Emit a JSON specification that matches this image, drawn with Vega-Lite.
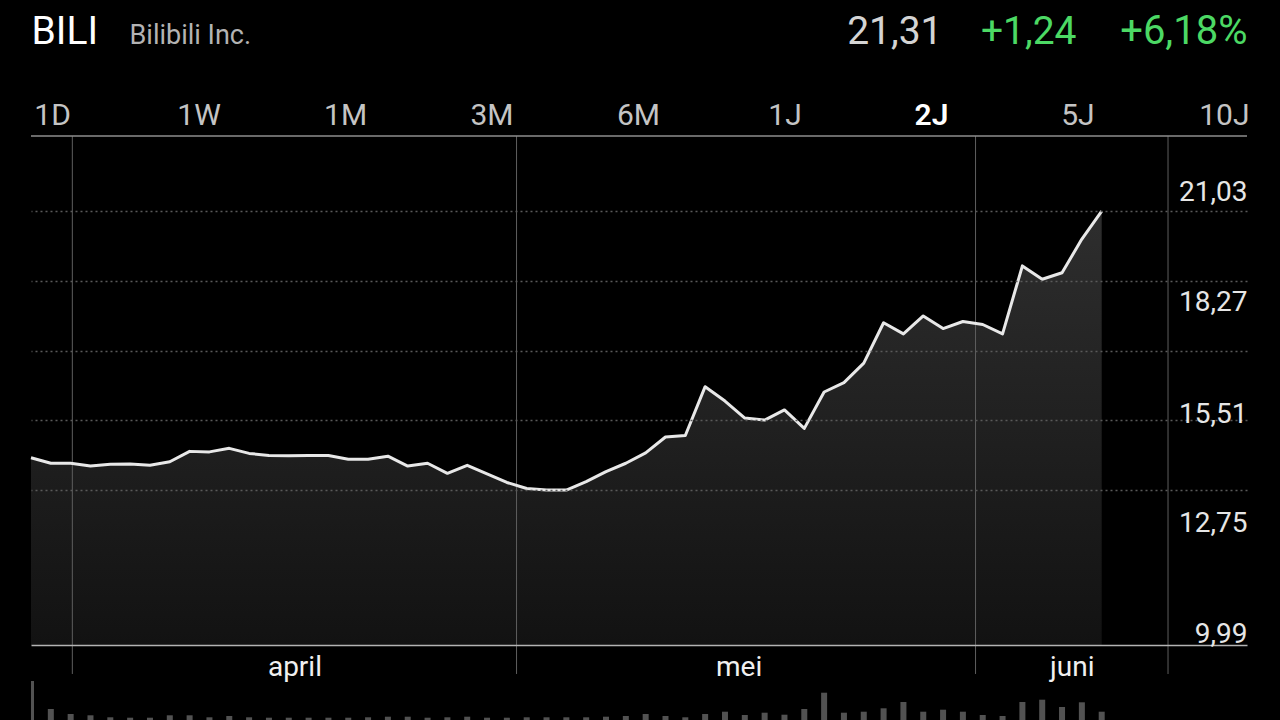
{
  "$schema": "https://vega.github.io/schema/vega-lite/v6.json",
  "width": 1216,
  "height": 584,
  "autosize": {"type": "none"},
  "padding": {"left": 31, "top": 136, "right": 33, "bottom": 0},
  "background": "#000000",
  "config": {
    "view": {"stroke": null},
    "font": "Roboto",
    "axis": {"labelFont": "Roboto", "titleFont": "Roboto", "titleFontWeight": "normal"}
  },
  "datasets": {
    "daily": [
      {"date": "2018-03-28", "close": 11.27, "volume": 39},
      {"date": "2018-03-29", "close": 11.05, "volume": 11},
      {"date": "2018-04-02", "close": 11.05, "volume": 6},
      {"date": "2018-04-03", "close": 10.94, "volume": 4.7},
      {"date": "2018-04-04", "close": 11.01, "volume": 2.7},
      {"date": "2018-04-05", "close": 11.02, "volume": 2.3},
      {"date": "2018-04-06", "close": 10.97, "volume": 2.3},
      {"date": "2018-04-09", "close": 11.11, "volume": 4.7},
      {"date": "2018-04-10", "close": 11.52, "volume": 4.7},
      {"date": "2018-04-11", "close": 11.50, "volume": 2.7},
      {"date": "2018-04-12", "close": 11.64, "volume": 4},
      {"date": "2018-04-13", "close": 11.44, "volume": 2.7},
      {"date": "2018-04-16", "close": 11.36, "volume": 2.3},
      {"date": "2018-04-17", "close": 11.35, "volume": 2.3},
      {"date": "2018-04-18", "close": 11.36, "volume": 2.3},
      {"date": "2018-04-19", "close": 11.36, "volume": 2.3},
      {"date": "2018-04-20", "close": 11.21, "volume": 2.3},
      {"date": "2018-04-23", "close": 11.21, "volume": 2.7},
      {"date": "2018-04-24", "close": 11.33, "volume": 3.3},
      {"date": "2018-04-25", "close": 10.94, "volume": 3.3},
      {"date": "2018-04-26", "close": 11.05, "volume": 2.3},
      {"date": "2018-04-27", "close": 10.65, "volume": 2.7},
      {"date": "2018-04-30", "close": 10.97, "volume": 3.3},
      {"date": "2018-05-01", "close": 10.63, "volume": 2.3},
      {"date": "2018-05-02", "close": 10.29, "volume": 2.3},
      {"date": "2018-05-03", "close": 10.05, "volume": 2.7},
      {"date": "2018-05-04", "close": 9.99, "volume": 2.7},
      {"date": "2018-05-07", "close": 9.99, "volume": 2.7},
      {"date": "2018-05-08", "close": 10.32, "volume": 2.7},
      {"date": "2018-05-09", "close": 10.72, "volume": 3.3},
      {"date": "2018-05-10", "close": 11.05, "volume": 4},
      {"date": "2018-05-11", "close": 11.46, "volume": 6},
      {"date": "2018-05-14", "close": 12.09, "volume": 4},
      {"date": "2018-05-15", "close": 12.15, "volume": 2.7},
      {"date": "2018-05-16", "close": 14.08, "volume": 6},
      {"date": "2018-05-17", "close": 13.51, "volume": 8.3},
      {"date": "2018-05-18", "close": 12.84, "volume": 5},
      {"date": "2018-05-21", "close": 12.76, "volume": 7.3},
      {"date": "2018-05-22", "close": 13.16, "volume": 5.3},
      {"date": "2018-05-23", "close": 12.43, "volume": 11},
      {"date": "2018-05-24", "close": 13.87, "volume": 27.3},
      {"date": "2018-05-25", "close": 14.24, "volume": 7.3},
      {"date": "2018-05-29", "close": 15.01, "volume": 8.3},
      {"date": "2018-05-30", "close": 16.61, "volume": 11.7},
      {"date": "2018-05-31", "close": 16.17, "volume": 18},
      {"date": "2018-06-01", "close": 16.88, "volume": 8.3},
      {"date": "2018-06-04", "close": 16.38, "volume": 10.3},
      {"date": "2018-06-05", "close": 16.66, "volume": 8.3},
      {"date": "2018-06-06", "close": 16.54, "volume": 5},
      {"date": "2018-06-07", "close": 16.17, "volume": 4},
      {"date": "2018-06-08", "close": 18.86, "volume": 18},
      {"date": "2018-06-11", "close": 18.33, "volume": 20.3},
      {"date": "2018-06-12", "close": 18.59, "volume": 13},
      {"date": "2018-06-13", "close": 19.92, "volume": 17.7},
      {"date": "2018-06-14", "close": 21.03, "volume": 8.3}
    ],
    "monthLines": [
      {"date": "2018-04-01T00:00"},
      {"date": "2018-05-01T00:00"},
      {"date": "2018-06-01T00:00"},
      {"date": "2018-06-14T00:00"}
    ],
    "tabs": [
      {"tab": "1D"}, {"tab": "1W"}, {"tab": "1M"}, {"tab": "3M"}, {"tab": "6M"},
      {"tab": "1J"}, {"tab": "2J"}, {"tab": "5J"}, {"tab": "10J"}
    ]
  },
  "resolve": {
    "scale": {"x": "independent", "y": "independent"},
    "axis": {"x": "independent", "y": "independent"}
  },
  "layer": [
    {
      "data": {"name": "daily"},
      "mark": {
        "type": "area",
        "color": {
          "gradient": "linear", "x1": 0, "y1": 0, "x2": 0, "y2": 1,
          "stops": [{"offset": 0, "color": "#2e2e2e"}, {"offset": 1, "color": "#121212"}]
        }
      },
      "encoding": {
        "x": {"field": "date", "type": "ordinal", "scale": {"type": "point", "padding": 0, "range": [0, 1070.7]}, "axis": null},
        "y": {
          "field": "close", "type": "quantitative",
          "scale": {"domain": [0.89, 24], "zero": false, "nice": false},
          "axis": {
            "orient": "left", "labels": false, "ticks": false, "domain": false, "grid": false,
            "title": "BILI", "titleX": 0, "titleY": -93, "titleAngle": 0,
            "titleAlign": "left", "titleBaseline": "alphabetic",
            "titleFontSize": 39, "titleColor": "#ffffff"
          }
        },
        "y2": {"datum": 3.858}
      }
    },
    {
      "data": {"name": "monthLines"},
      "layer": [
        {
          "mark": {"type": "rule", "color": "#5e5e5e", "strokeWidth": 1},
          "encoding": {
            "x": {
              "field": "date", "type": "temporal",
              "scale": {"domain": [{"year": 2018, "month": 3, "date": 29, "hours": 5}, {"year": 2018, "month": 6, "date": 19, "hours": 8}]},
              "axis": {
                "orient": "bottom", "offset": -75, "zindex": 1,
                "values": [{"year": 2018, "month": 4, "date": 16}, {"year": 2018, "month": 5, "date": 16}, {"year": 2018, "month": 6, "date": 7, "hours": 12}],
                "labelExpr": "['januari','februari','maart','april','mei','juni','juli'][month(datum.value)]",
                "ticks": false, "tickSize": 0, "grid": false,
                "domain": true, "domainColor": "#b4b4b4", "domainWidth": 1.5,
                "labelColor": "#f0f0f0", "labelFontSize": 28, "labelPadding": 30, "labelBaseline": "alphabetic",
                "labelOverlap": false, "labelBound": false, "labelFlush": false,
                "title": "+1,24", "titleX": 1045, "titleY": -602, "titleAlign": "right", "titleBaseline": "alphabetic",
                "titleFontSize": 39, "titleColor": "#4cd964"
              }
            },
            "y": {
              "datum": 24, "type": "quantitative",
              "scale": {"domain": [0.89, 24], "zero": false, "nice": false},
              "axis": {
                "orient": "right",
                "zindex": 1,
                "values": [9.99, 12.75, 15.51, 18.27, 21.03],
                "labelExpr": "replace(format(datum.value, '.2f'), '.', ',')",
                "grid": true, "gridDash": [2, 3], "gridColor": "#5a5a5a", "gridWidth": 1.5,
                "ticks": false, "tickSize": 0, "domain": false,
                "labelAlign": "right", "labelPadding": 0, "labelBaseline": "alphabetic",
                "labelFontSize": 28, "labelColor": "#e6e6e6",
                "labelOverlap": false, "labelBound": false, "labelFlush": false,
                "labelOffset": {
                  "condition": [
                    {"test": "datum.value == 9.99", "value": 152.6},
                    {"test": "datum.value == 12.75", "value": 111.4},
                    {"test": "datum.value == 15.51", "value": 72.1},
                    {"test": "datum.value == 18.27", "value": 29.9}
                  ],
                  "value": -10.3
                },
                "title": "21,31", "titleX": -305, "titleY": -93, "titleAngle": 0,
                "titleAlign": "right", "titleBaseline": "alphabetic",
                "titleFontSize": 39, "titleColor": "#d4d4d4"
              }
            },
            "y2": {"datum": 2.711}
          }
        },
        {
          "transform": [{"aggregate": [{"op": "count", "as": "n"}]}],
          "mark": {"type": "rule", "color": "#8e8e8e", "strokeWidth": 1.5},
          "encoding": {"y": {"datum": 24, "type": "quantitative"}}
        }
      ]
    },
    {
      "data": {"name": "daily"},
      "mark": {"type": "line", "color": "#e8e8e8", "strokeWidth": 3, "strokeJoin": "round"},
      "encoding": {
        "x": {"field": "date", "type": "ordinal", "scale": {"type": "point", "padding": 0, "range": [0, 1070.7]}, "axis": null},
        "y": {"field": "close", "type": "quantitative", "scale": {"domain": [0.89, 24], "zero": false, "nice": false}, "axis": null}
      }
    },
    {
      "data": {"name": "daily"},
      "mark": {"type": "bar", "color": "#525252", "width": 6, "clip": true},
      "encoding": {
        "x": {"field": "date", "type": "ordinal", "scale": {"type": "point", "padding": 0, "range": [0, 1070.7]}, "axis": null},
        "y": {
          "field": "volume", "type": "quantitative",
          "scale": {"domain": [0, 584], "nice": false},
          "axis": {
            "orient": "left", "labels": false, "ticks": false, "domain": false, "grid": false,
            "title": "Bilibili Inc.", "titleX": 98, "titleY": -93, "titleAngle": 0,
            "titleAlign": "left", "titleBaseline": "alphabetic",
            "titleFontSize": 27, "titleColor": "#b3b3b3"
          }
        }
      }
    },
    {
      "data": {"name": "tabs"},
      "encoding": {
        "x": {
          "field": "tab", "type": "nominal", "sort": null,
          "scale": {"type": "point", "padding": 0, "range": [21.6, 1193.4], "domain": ["1D", "1W", "1M", "3M", "6M", "1J", "2J", "5J", "10J"]},
          "axis": null
        },
        "y": {
          "datum": 24, "type": "quantitative",
          "scale": {"domain": [0.89, 24], "zero": false, "nice": false},
          "axis": {
            "orient": "right", "labels": false, "ticks": false, "domain": false, "grid": false,
            "title": "+6,18%", "titleX": 0, "titleY": -93, "titleAngle": 0,
            "titleAlign": "right", "titleBaseline": "alphabetic",
            "titleFontSize": 40, "titleColor": "#4cd964"
          }
        }
      },
      "layer": [
        {
          "transform": [{"filter": "datum.tab != '2J'"}],
          "mark": {"type": "text", "font": "Roboto", "fontSize": 30, "color": "#c4c4c4", "baseline": "alphabetic", "dy": -11},
          "encoding": {"text": {"field": "tab"}}
        },
        {
          "transform": [{"filter": "datum.tab == '2J'"}],
          "mark": {"type": "text", "font": "Roboto", "fontSize": 30, "fontWeight": 600, "color": "#ffffff", "baseline": "alphabetic", "dy": -11},
          "encoding": {"text": {"field": "tab"}}
        }
      ]
    }
  ]
}
